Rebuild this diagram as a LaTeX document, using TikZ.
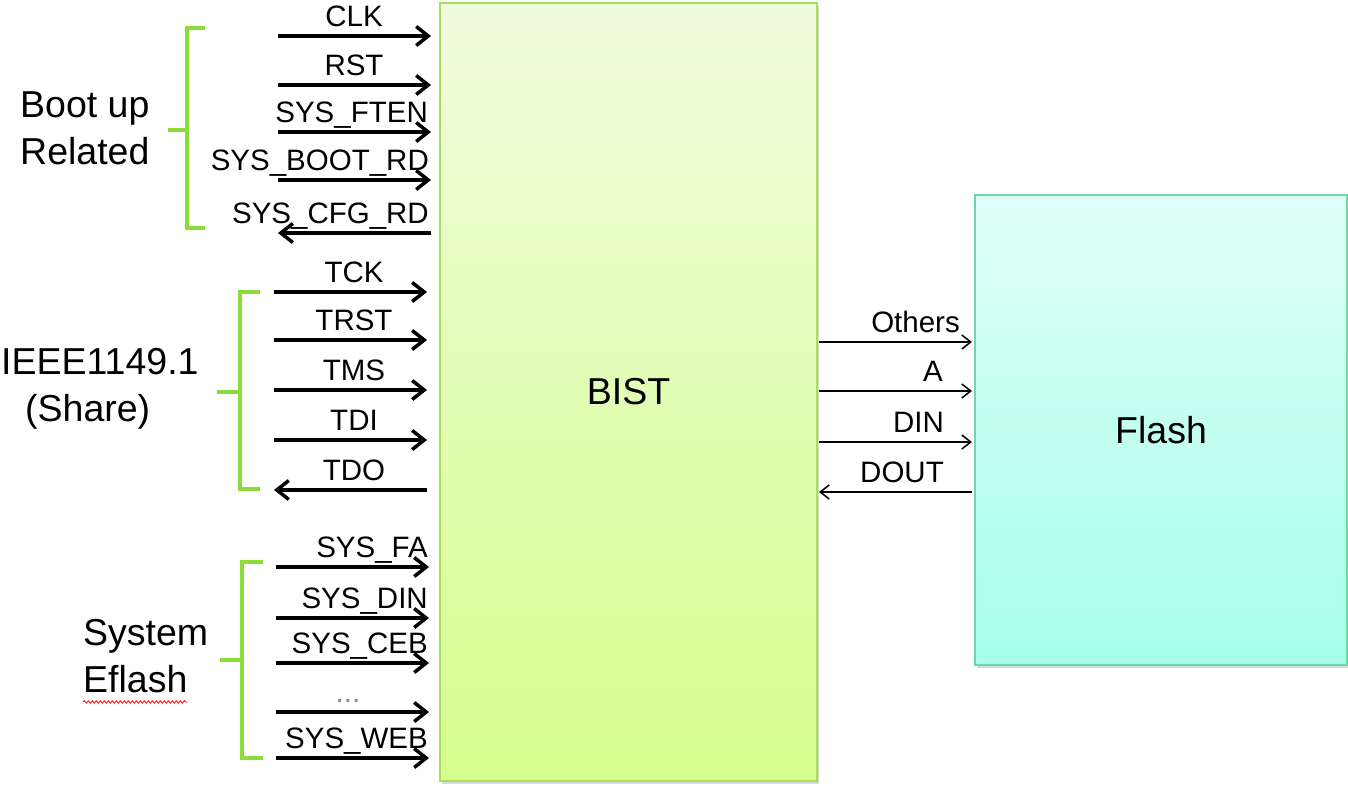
\documentclass[tikz,border=0pt]{standalone}
\usepackage{fontspec}
\setmainfont{Liberation Sans}
\usetikzlibrary{arrows.meta,positioning,shadows,calc,decorations.pathmorphing}

\definecolor{bisttop}{HTML}{EFFCDD}
\definecolor{bistbot}{HTML}{D5FF8E}
\definecolor{bistline}{HTML}{A6E05A}
\definecolor{flashtop}{HTML}{E0FFF8}
\definecolor{flashbot}{HTML}{A6FFE8}
\definecolor{flashline}{HTML}{70D6B0}
\definecolor{bracegreen}{HTML}{8CDC3C}

\newcommand\sigfont{\fontsize{29.5}{33}\selectfont}
\newcommand\bigfont{\fontsize{37.5}{47}\selectfont}

\tikzset{
  sig/.style={line width=3.5pt},
  sigin/.style={-{Straight Barb[length=12pt,width=19pt]}},
  sigout/.style={{Straight Barb[length=12pt,width=19pt]}-},
  fl/.style={line width=1.5pt},
  flin/.style={-{Straight Barb[length=9pt,width=14pt]}},
  flout/.style={{Straight Barb[length=9pt,width=14pt]}-},
  siglab/.style={font=\sigfont,inner sep=0pt},
  grouplab/.style={font=\bigfont,inner sep=0pt,anchor=west},
  grpbrace/.style={draw=bracegreen,line width=4pt},
  bistbox/.style={draw=bistline,line width=2pt,top color=bisttop,bottom color=bistbot,
    font=\bigfont,drop shadow={shadow xshift=2pt,shadow yshift=-3pt,opacity=0.3}},
  flashbox/.style={draw=flashline,line width=2pt,top color=flashtop,bottom color=flashbot,
    font=\bigfont,drop shadow={shadow xshift=2pt,shadow yshift=-3pt,opacity=0.3}}
}

\begin{document}
\begin{tikzpicture}[x=1pt,y=-1pt]
  \useasboundingbox (0,0) rectangle (1348,785);
  % Blocks
  \node[bistbox,minimum width=377pt,minimum height=778pt] (bist) at (628.5,392) {BIST};
  \node[flashbox,minimum width=372pt,minimum height=470pt] (flash) at (1161,430) {Flash};

  % Boot up related
  \foreach \yy/\txt/\anc/\xl/\dir [count=\i] in {36/CLK/base/354/sigin,
      85/RST/base/354/sigin, 132/SYS\_FTEN/base east/428/sigin,
      180/SYS\_BOOT\_RD/base east/429/sigin, 233/SYS\_CFG\_RD/base east/429/sigout} {
    \coordinate (boot\i) at (278,\yy);
    \draw[sig,\dir,shorten >=8pt] (boot\i) -- (boot\i -| bist.west);
    \node[siglab,anchor=\anc] (bootlab\i) at (\xl,\yy-9.5) {\txt};
  }
  \draw[grpbrace] (205,28) -- (187,28) -- (187,228) -- (205,228);
  \draw[grpbrace] (187,130) -- (168,130);
  \node[grouplab,align=left] (boot) at (20,128) {Boot up\\Related};

  % IEEE1149.1
  \foreach \yy/\txt/\dir [count=\i] in {292/TCK/sigin, 340/TRST/sigin,
      390/TMS/sigin, 440/TDI/sigin, 490/TDO/sigout} {
    \coordinate (jtag\i) at (274,\yy);
    \draw[sig,\dir,shorten >=12pt] (jtag\i) -- (jtag\i -| bist.west);
    \node[siglab,anchor=base] (jtaglab\i) at (354,\yy-9.5) {\txt};
  }
  \draw[grpbrace] (260,292) -- (240,292) -- (240,489) -- (260,489);
  \draw[grpbrace] (240,392) -- (217,392);
  \node[grouplab,align=left] (jtag) at (1,389) {IEEE1149.1\\\hspace*{24pt}(Share)};

  % System eflash
  \foreach \yy/\txt/\anc/\xl [count=\i] in {567/SYS\_FA/base east/428,
      618/SYS\_DIN/base east/428, 663/SYS\_CEB/base east/428,
      712/{\color{black!45}...}/base/348, 758/SYS\_WEB/base east/428} {
    \coordinate (sys\i) at (276,\yy);
    \draw[sig,sigin,shorten >=10pt] (sys\i) -- (sys\i -| bist.west);
    \node[siglab,anchor=\anc] (syslab\i) at (\xl,\yy-9.5) {\txt};
  }
  \draw[grpbrace] (263,562) -- (242,562) -- (242,758) -- (263,758);
  \draw[grpbrace] (242,660) -- (220,660);
  \node[grouplab,align=left] (sys) at (83,656) {System\\Eflash};
  \draw[red,line width=0.8pt,decorate,decoration={snake,amplitude=1.2pt,segment length=4pt}]
    (sys.south west) ++(0,9) -- ++(104,0);

  % BIST to flash
  \foreach \yy/\txt/\xl/\dir [count=\i] in {342/Others/960/flin, 391/A/943/flin,
      442/DIN/944/flin, 492/DOUT/944/flout} {
    \coordinate (fl\i) at (819,\yy);
    \draw[fl,\dir,shorten >=2pt] (fl\i) -- (fl\i -| flash.west);
    \node[siglab,anchor=base east] (fllab\i) at (\xl,\yy-10) {\txt};
  }
\end{tikzpicture}
\end{document}
